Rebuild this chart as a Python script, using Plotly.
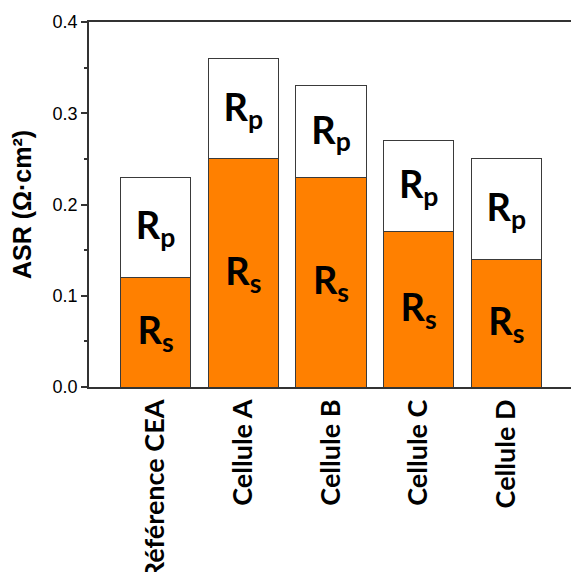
import plotly.graph_objects as go

cells = ['Référence CEA', 'Cellule A', 'Cellule B', 'Cellule C', 'Cellule D']
rs = [0.12, 0.25, 0.23, 0.17, 0.14]
rp = [0.11, 0.11, 0.10, 0.10, 0.11]

label_font = dict(family='Lato', size=38, color='black', weight='bold')

fig = go.Figure()

fig.add_trace(go.Bar(x=cells, y=rs, name='Rs',
                     marker=dict(color='#FF8000', line=dict(color='#3a3a3a', width=1)),
                     text=['R<sub>s</sub>']*len(cells), textposition='inside',
                     insidetextanchor='middle', textangle=0, textfont=label_font))
fig.add_trace(go.Bar(x=cells, y=rp, name='Rp',
                     marker=dict(color='white', line=dict(color='#3a3a3a', width=1)),
                     text=['R<sub>p</sub>']*len(cells), textposition='inside',
                     insidetextanchor='middle', textangle=0, textfont=label_font))

# page body adds 8px offset, so margins are reduced accordingly
fig.update_layout(barmode='stack', bargap=0.2, showlegend=False,
                  width=579, height=572,
                  margin=dict(l=81, r=0, t=14, b=193, autoexpand=False),
                  paper_bgcolor='white', plot_bgcolor='white')

fig.update_xaxes(range=[-0.76, 4.92], showline=True, linecolor='#333', linewidth=1.5,
                 mirror=True, ticks='', tickangle=-90, automargin=False,
                 tickfont=dict(family='Lato', size=27, color='black', weight='bold'))
fig.update_yaxes(range=[0, 0.4], dtick=0.1, tickformat='.1f', showgrid=False, zeroline=False,
                 showline=True, linecolor='#333', linewidth=1.5, automargin=False,
                 ticks='outside', ticklen=6, tickwidth=1.5, tickcolor='#333',
                 minor=dict(dtick=0.05, ticks='outside', ticklen=3, tickcolor='#333'),
                 tickfont=dict(family='Arial', size=18, color='black'),
                 title=dict(text='ASR (Ω·cm²)', standoff=14,
                            font=dict(family='Arial', size=25, color='black', weight='bold')))

fig.write_html("out.html")
